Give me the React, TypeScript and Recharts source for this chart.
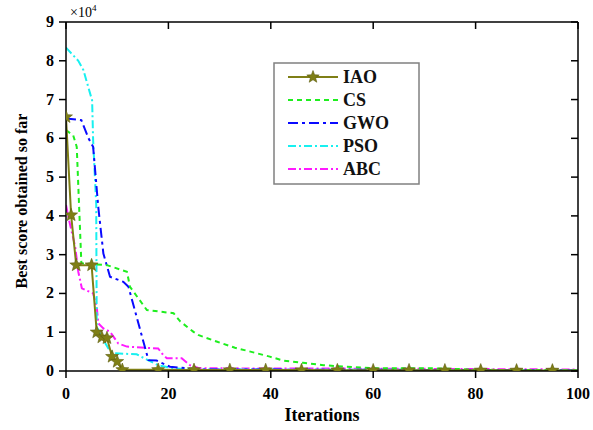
import React from 'react';
import { LineChart, Line, XAxis, YAxis } from 'recharts';

// iteration ticks and score ticks (scores shown in units of 1e4)
const ITER_TICKS = [0, 20, 40, 60, 80, 100];
const SCORE_TICKS = [0, 10000, 20000, 30000, 40000, 50000, 60000, 70000, 80000, 90000];

// [iteration, best score]
const IAO: [number, number][] = [
    [0, 65500], [1, 40200], [2, 27300], [5, 27300], [6, 10000], [7, 8700], [8, 8500],
    [9, 3700], [10, 2400], [11, 300], [18, 300], [25, 280], [32, 260], [39, 250],
    [46, 230], [53, 220], [60, 200], [67, 200], [74, 180], [81, 170], [88, 160],
    [95, 150], [100, 150],
];
// iterations where the IAO star markers sit
const IAO_MARKS = [0, 1, 2, 5, 6, 7, 8, 9, 10, 11, 18, 25, 32, 39, 46, 53, 60, 67, 74, 81, 88, 95];

const CS: [number, number][] = [
    [0, 62100], [1.4, 60800], [2.1, 57800], [3, 27800], [8, 27300], [11.9, 25600],
    [12.5, 21700], [15.8, 15700], [21, 14900], [22.3, 12800], [24.9, 10100], [25.8, 9300],
    [29.4, 7600], [33, 6000], [37.2, 4600], [39.8, 3700], [42.4, 2700], [46.3, 2100],
    [50.3, 1500], [54.8, 1100], [60.7, 700], [71.7, 700], [81.5, 300], [100, 200],
];

const GWO: [number, number][] = [
    [0, 65100], [3, 64700], [4.4, 60000], [5.3, 57800], [6.3, 42300], [7.3, 30300],
    [8.6, 24300], [11.2, 23000], [12.2, 21700], [16.1, 2800], [17.7, 2700], [20.3, 1100],
    [23.5, 700], [26, 400], [100, 200],
];

const PSO: [number, number][] = [
    [0, 83400], [2.4, 80000], [3.4, 77600], [4.7, 71600], [5.1, 69800], [5.3, 59500],
    [5.9, 43000], [6.0, 11400], [6.6, 9700], [7.3, 8000], [8.3, 5800], [9.2, 4600],
    [13.8, 4300], [16, 2800], [18, 1500], [21, 700], [24, 400], [100, 200],
];

const ABC: [number, number][] = [
    [0, 42800], [0.6, 38900], [1.8, 32000], [2.4, 25600], [3.1, 21300], [5.3, 20000],
    [6.0, 16600], [6.3, 12300], [7.3, 11000], [8.6, 10100], [10.2, 7100], [11.9, 6300],
    [18, 5800], [19, 4100], [19.7, 3300], [22.6, 3300], [24.2, 1500], [26, 700],
    [60, 600], [100, 400],
];

const toPoints = (pairs: [number, number][]) => pairs.map(([x, y]) => ({ x, y }));

const series = [
    { name: 'IAO', data: IAO, color: '#7f7f16', dash: undefined, width: 2 },
    { name: 'CS', data: CS, color: '#1eee1e', dash: '5 4', width: 2 },
    { name: 'GWO', data: GWO, color: '#0a0aff', dash: '10 4 3 4', width: 2 },
    { name: 'PSO', data: PSO, color: '#18f0f0', dash: '8 3 2 3', width: 2 },
    { name: 'ABC', data: ABC, color: '#ff1aff', dash: '8 3 2 3', width: 2 },
];

const iaoMarkers = toPoints(IAO.filter(([x]) => IAO_MARKS.includes(x)));

const FONT = '"Liberation Serif", "Times New Roman", serif';

const starPath = (cx: number, cy: number, r: number) => {
    const pts: string[] = [];
    for (let i = 0; i < 10; i++) {
        const rad = i % 2 === 0 ? r : r * 0.42;
        const a = -Math.PI / 2 + (i * Math.PI) / 5;
        pts.push(`${(cx + rad * Math.cos(a)).toFixed(2)},${(cy + rad * Math.sin(a)).toFixed(2)}`);
    }
    return `M${pts.join('L')}Z`;
};

const Star = (props: any) => {
    const { cx, cy, index } = props;
    if (cx == null || cy == null) return <g key={index} />;
    return <path key={index} d={starPath(cx, cy, 6.8)} fill="#7f7f16" stroke="#5e5e10" strokeWidth={0.6} />;
};

const BottomTick = ({ x, y, payload }: any) => (
    <g>
        <line x1={x} x2={x} y1={y} y2={y + 7} stroke="#000" strokeWidth={1.5} />
        <text x={x} y={y + 28} textAnchor="middle" fontFamily={FONT} fontWeight="bold" fontSize={16} fill="#000">
            {payload.value}
        </text>
    </g>
);

const LeftTick = ({ x, y, payload }: any) => (
    <g>
        <line x1={x} x2={x - 7} y1={y} y2={y} stroke="#000" strokeWidth={1.5} />
        <text x={x - 12} y={y + 5} textAnchor="end" fontFamily={FONT} fontWeight="bold" fontSize={16} fill="#000">
            {payload.value / 10000}
        </text>
    </g>
);

const TopTick = ({ x, y }: any) => <line x1={x} x2={x} y1={y} y2={y + 7} stroke="#000" strokeWidth={1.5} />;
const RightTick = ({ x, y }: any) => <line x1={x} x2={x - 7} y1={y} y2={y} stroke="#000" strokeWidth={1.5} />;

const Legend = () => (
    <svg width={148} height={124} style={{ position: 'absolute', left: 273, top: 62 }}>
        <rect x={1} y={1} width={145} height={121} fill="#fff" stroke="#808080" strokeWidth={1.5} />
        {series.map((s, i) => {
            const cy = 15 + i * 23;
            return (
                <g key={s.name}>
                    <line x1={15} x2={65} y1={cy} y2={cy} stroke={s.color} strokeWidth={s.width} strokeDasharray={s.dash} />
                    {s.name === 'IAO' && <path d={starPath(40, cy, 6.5)} fill="#7f7f16" stroke="#5e5e10" strokeWidth={0.6} />}
                    <text x={70} y={cy + 6} fontFamily={FONT} fontWeight="bold" fontSize={18} fill="#111">
                        {s.name}
                    </text>
                </g>
            );
        })}
    </svg>
);

export default function App() {
    return (
        <div style={{ position: 'absolute', left: 0, top: 0, width: 593, height: 430, background: '#fff' }}>
            <LineChart width={593} height={430} margin={{ top: 21, right: 14, left: 6, bottom: 9 }}>
                <XAxis
                    dataKey="x"
                    type="number"
                    domain={[0, 100]}
                    ticks={ITER_TICKS}
                    allowDataOverflow
                    height={50}
                    tickSize={0}
                    tickMargin={0}
                    tickLine={false}
                    tick={<BottomTick />}
                    axisLine={{ stroke: '#000', strokeWidth: 1.5 }}
                />
                <XAxis
                    xAxisId="top"
                    orientation="top"
                    dataKey="x"
                    type="number"
                    domain={[0, 100]}
                    ticks={ITER_TICKS}
                    allowDataOverflow
                    height={1}
                    tickSize={0}
                    tickMargin={0}
                    tickLine={false}
                    tick={<TopTick />}
                    axisLine={{ stroke: '#000', strokeWidth: 1.5 }}
                />
                <YAxis
                    dataKey="y"
                    type="number"
                    domain={[0, 90000]}
                    ticks={SCORE_TICKS}
                    allowDataOverflow
                    width={60}
                    tickSize={0}
                    tickMargin={0}
                    tickLine={false}
                    tick={<LeftTick />}
                    axisLine={{ stroke: '#000', strokeWidth: 1.5 }}
                />
                <YAxis
                    yAxisId="right"
                    orientation="right"
                    dataKey="y"
                    type="number"
                    domain={[0, 90000]}
                    ticks={SCORE_TICKS}
                    allowDataOverflow
                    width={1}
                    tickSize={0}
                    tickMargin={0}
                    tickLine={false}
                    tick={<RightTick />}
                    axisLine={{ stroke: '#000', strokeWidth: 1.5 }}
                />
                {series.slice().reverse().map(s => (
                    <Line
                        key={s.name}
                        data={toPoints(s.data)}
                        dataKey="y"
                        type="linear"
                        stroke={s.color}
                        strokeWidth={s.width}
                        strokeDasharray={s.dash}
                        dot={false}
                        activeDot={false}
                        isAnimationActive={false}
                    />
                ))}
                {/* star markers use the top/right axes (same domains) so the box axes get drawn */}
                <Line
                    xAxisId="top"
                    yAxisId="right"
                    data={iaoMarkers}
                    dataKey="y"
                    stroke="none"
                    dot={<Star />}
                    activeDot={false}
                    legendType="none"
                    isAnimationActive={false}
                />
            </LineChart>
            <svg width={593} height={430} style={{ position: 'absolute', left: 0, top: 0, pointerEvents: 'none' }}>
                <text x={70} y={17} fontFamily={FONT} fontSize={14} fill="#000">
                    ×10<tspan dy={-6} fontSize={9}>4</tspan>
                </text>
                <text
                    x={0}
                    y={0}
                    transform="translate(27, 201) rotate(-90)"
                    textAnchor="middle"
                    fontFamily={FONT}
                    fontWeight="bold"
                    fontSize={16}
                    fill="#000"
                >
                    Best score obtained so far
                </text>
                <text x={322} y={421} textAnchor="middle" fontFamily={FONT} fontWeight="bold" fontSize={18} fill="#000">
                    Iterations
                </text>
            </svg>
            <Legend />
        </div>
    );
}
